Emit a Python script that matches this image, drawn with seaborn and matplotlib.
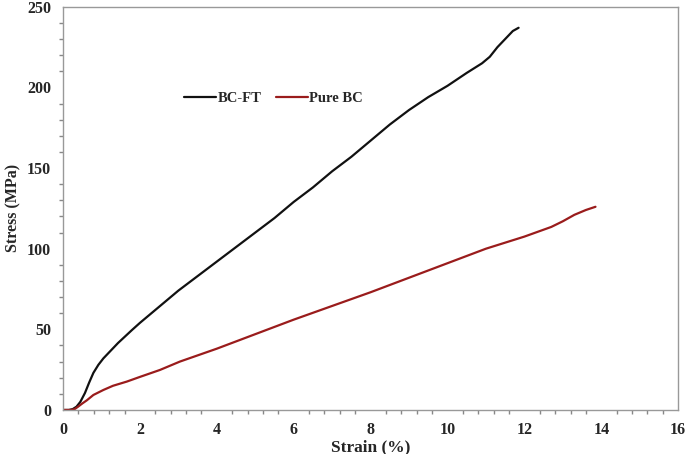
import numpy as np
import pandas as pd
import matplotlib
matplotlib.use("Agg")
import matplotlib.pyplot as plt
import seaborn as sns
from matplotlib.ticker import MultipleLocator

# strain (%) / stress (MPa)
ft_strain = [0.0, 0.15, 0.25, 0.35, 0.45, 0.57, 0.68, 0.79, 0.92, 1.05, 1.25, 1.43, 1.79, 2.0,
             2.5, 3.0, 3.5, 4.0, 4.5, 5.0, 5.5, 6.0, 6.5, 7.0, 7.5, 8.0, 8.5, 9.0, 9.5,
             10.0, 10.5, 10.9, 11.1, 11.3, 11.5, 11.7, 11.85]
ft_stress = [0, 0, 0.5, 2, 5, 10.5, 17, 23, 28, 32, 37, 41.5, 49.5, 54,
             64, 74, 83, 92, 101, 110, 119, 129, 138, 148, 157, 167, 177, 186, 194,
             201, 209, 215, 219, 225, 230, 235, 237]

bc_strain = [0.0, 0.2, 0.3, 0.39, 0.5, 0.62, 0.79, 1.05, 1.3, 1.66, 2.0, 2.52, 3.04, 4.0,
             5.0, 6.0, 7.0, 8.0, 9.0, 10.0, 11.0, 12.0, 12.7, 13.0, 13.3, 13.6, 13.85]
bc_stress = [0, 0, 0.5, 2, 4, 6, 9.3, 12.4, 15, 17.6, 20.5, 24.8, 30, 38,
             47, 56, 64.5, 73, 82, 91, 100, 107.5, 113.5, 117, 121, 124, 126]

df = pd.concat([
    pd.DataFrame({"Strain": ft_strain, "Stress": ft_stress, "Sample": "BC-FT"}),
    pd.DataFrame({"Strain": bc_strain, "Stress": bc_stress, "Sample": "Pure BC"}),
])

sns.set_style("white")
plt.rcParams["font.family"] = ["Liberation Serif", "DejaVu Serif"]
plt.rcParams["font.weight"] = "bold"

fig = plt.figure(figsize=(6.85, 4.54), dpi=100)
ax = fig.add_axes([0.092, 0.097, 0.898, 0.888])

sns.lineplot(data=df, x="Strain", y="Stress", hue="Sample", sort=False,
             palette={"BC-FT": "#111111", "Pure BC": "#9a1c1c"}, linewidth=1.6, ax=ax)

ax.set_xlim(0, 16)
ax.set_ylim(0, 250)
ax.xaxis.set_major_locator(MultipleLocator(2))
ax.xaxis.set_minor_locator(MultipleLocator(0.4))
ax.yaxis.set_major_locator(MultipleLocator(50))
ax.yaxis.set_minor_locator(MultipleLocator(10))
ax.tick_params(which="both", direction="out", color="#888888", labelsize=11.5)
ax.tick_params(which="major", length=5, width=1)
ax.tick_params(which="minor", length=3, width=1, left=True, bottom=True)
for t in ax.get_xticklabels() + ax.get_yticklabels():
    t.set_fontweight("bold")
for s in ax.spines.values():
    s.set_color("#999999")
    s.set_linewidth(1)

ax.set_xlabel("Strain (%)", fontsize=12.5, fontweight="bold", labelpad=1)
ax.set_ylabel("Stress (MPa)", fontsize=11.5, fontweight="bold", labelpad=4)

leg = ax.legend(title=None, loc="center left", bbox_to_anchor=(0.175, 0.772), ncol=2,
                frameon=False, handlelength=2.2, handletextpad=0.1, columnspacing=1.0,
                prop={"weight": "bold", "size": 10.5})

fig.savefig("out.png", dpi=100)
